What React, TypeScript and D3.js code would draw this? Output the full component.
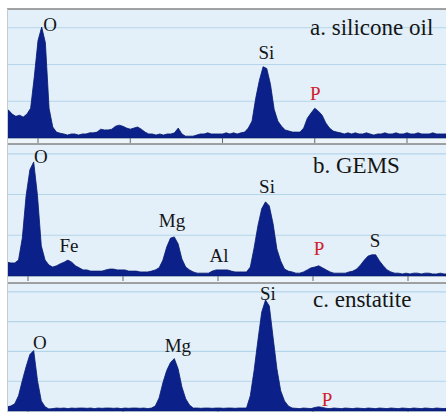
import React from 'react';
import * as d3 from 'd3';

// EDS spectra, counts per 0.02 keV channel
const startA = 0.34;
const countsA = [
  76, 65, 59, 62, 57, 65, 81, 167, 265, 302, 259, 81, 30, 16, 13, 11, 8, 11, 11, 8,
  11, 11, 14, 14, 16, 24, 22, 22, 24, 32, 35, 32, 27, 24, 27, 30, 24, 16, 11, 11,
  8, 11, 8, 11, 11, 14, 27, 11, 5, 5, 5, 8, 11, 11, 14, 11, 11, 11, 11, 14,
  11, 14, 11, 14, 16, 27, 46, 108, 157, 194, 189, 146, 78, 46, 32, 22, 19, 16, 16, 16,
  27, 54, 68, 81, 73, 62, 41, 27, 19, 16, 14, 11, 14, 11, 14, 11, 11, 14, 11, 8,
  11, 11, 14, 11, 11, 14, 11, 11, 14, 11, 11, 14, 11, 11, 11, 14, 11, 11, 11,
];

const startB = 0.39;
const countsB = [
  34, 32, 32, 39, 93, 197, 261, 280, 197, 74, 39, 27, 22, 25, 30, 34, 39, 34, 25, 20,
  15, 15, 12, 12, 12, 12, 15, 17, 17, 15, 15, 15, 12, 12, 12, 10, 10, 10, 12, 15,
  20, 39, 71, 93, 96, 79, 42, 22, 15, 10, 7, 7, 7, 7, 12, 15, 15, 15, 15, 12,
  10, 10, 10, 10, 22, 69, 123, 165, 182, 172, 128, 66, 37, 17, 12, 10, 7, 7, 10, 15,
  20, 22, 25, 20, 15, 10, 7, 7, 7, 7, 10, 12, 17, 27, 39, 49, 52, 52, 37, 25,
  15, 10, 7, 7, 5, 7, 5, 7, 7, 5, 7, 7, 5, 5, 7, 5, 5,
];

const startC = 0.39;
const countsC = [
  14, 17, 24, 51, 102, 149, 190, 203, 102, 34, 14, 7, 8, 10, 9, 10, 8, 10, 9, 10,
  10, 9, 10, 8, 10, 9, 10, 10, 9, 10, 8, 10, 9, 10, 10, 9, 10, 8, 10, 17,
  44, 95, 136, 163, 176, 142, 81, 41, 20, 10, 10, 9, 10, 10, 9, 10, 10, 9, 10, 10,
  9, 10, 10, 10, 51, 136, 237, 332, 373, 353, 247, 142, 68, 34, 17, 10, 9, 8, 10, 9,
  8, 12, 14, 12, 9, 8, 10, 9, 8, 10, 9, 8, 10, 9, 8, 10, 9, 8, 10, 9,
  8, 10, 9, 8, 10, 9, 8, 10, 9, 8, 10, 9, 8, 10, 9, 8, 10,
];

const channelWidth = 0.02;
const tickEnergies = [0.5, 1, 1.5, 2, 2.5];
const gridCounts = [100, 200, 300, 400];

const titles = ['a. silicone oil', 'b. GEMS', 'c. enstatite'];

// peak labels: [element, energy keV, counts at text baseline]
const labelsA: [string, number, number][] = [['O', 0.565, 292], ['Si', 1.738, 216], ['P', 2.003, 103]];
const labelsB: [string, number, number][] = [
  ['O', 0.568, 278], ['Fe', 0.716, 59], ['Mg', 1.258, 121], ['Al', 1.505, 34],
  ['Si', 1.758, 204], ['P', 2.032, 52], ['S', 2.326, 71],
];
const labelsC: [string, number, number][] = [['O', 0.563, 207], ['Mg', 1.289, 197], ['Si', 1.763, 373], ['P', 2.074, 17]];

const W = 446;
const H = 412;
const left = 7;

const panels = [
  { title: titles[0], start: startA, counts: countsA, labels: labelsA, top: 9, base: 138, yMax: 351, x0: 38, x1: 407, titleX: 310, titleY: 35 },
  { title: titles[1], start: startB, counts: countsB, labels: labelsB, top: 144, base: 276, yMax: 324, x0: 28, x1: 408, titleX: 313, titleY: 173 },
  { title: titles[2], start: startC, counts: countsC, labels: labelsC, top: 283, base: 411, yMax: 430, x0: 28, x1: 408, titleX: 313, titleY: 307 },
];

const serif = '"Liberation Serif", "Times New Roman", serif';

function Panel({ p, next }: { p: typeof panels[0]; next: number }) {
  const x = d3.scaleLinear().domain([0.5, 2.5]).range([p.x0, p.x1]);
  const y = d3.scaleLinear().domain([0, p.yMax]).range([p.base, p.top]);
  const pts = p.counts.map((c, i) => [p.start + i * channelWidth, c] as [number, number]);
  // carry the first and last channel out to the panel edges
  pts.unshift([x.invert(left), p.counts[0]]);
  pts.push([x.invert(W), p.counts[p.counts.length - 1]]);
  const area = d3.area<[number, number]>()
    .x(d => x(d[0]))
    .y0(p.base)
    .y1(d => y(d[1]));
  const clipId = 'clip' + p.top;
  return (
    <g>
      <defs>
        <clipPath id={clipId}>
          <rect x={left} y={p.top} width={W - left} height={p.base - p.top} />
        </clipPath>
      </defs>
      <rect x={left} y={p.top} width={W - left} height={next - p.top} fill="#e3f0fa" />
      <rect x={left} y={p.base} width={W - left} height={next - p.base} fill="#edf5fb" />
      {gridCounts.filter(g => g < p.yMax).map(g => (
        <line key={g} x1={left} x2={W} y1={y(g)} y2={y(g)} stroke="#b4d5ea" strokeWidth={1.2} />
      ))}
      <path d={area(pts) || ''} fill="#0b2189" stroke="#071a70" strokeWidth={0.8} clipPath={`url(#${clipId})`} />
      <line x1={left} x2={W} y1={p.base + 0.5} y2={p.base + 0.5} stroke="#9fb3c4" />
      {tickEnergies.map(t => (
        <line key={t} x1={x(t)} x2={x(t)} y1={p.base} y2={p.base + 5} stroke="#666" strokeWidth={1} />
      ))}
      <line x1={left} x2={W} y1={p.top} y2={p.top} stroke="#858585" strokeWidth={1.6} />
      {p.labels.map(([t, e, c]) => (
        <text key={t} x={x(e)} y={y(c)} textAnchor="middle" fontFamily={serif} fontSize={19}
          fill={t === 'P' ? '#d0202a' : '#151515'}>{t}</text>
      ))}
      <text x={p.titleX} y={p.titleY} fontFamily={serif} fontSize={23} fill="#151515">{p.title}</text>
    </g>
  );
}

export default function App() {
  const bounds = [144, 283, H];
  return (
    <svg width={W} height={H} style={{ position: 'absolute', left: 0, top: 0 }}>
      <rect width={W} height={H} fill="#ffffff" />
      {panels.map((p, i) => <Panel key={i} p={p} next={bounds[i]} />)}
      <line x1={left + 0.5} x2={left + 0.5} y1={9} y2={H} stroke="#c4ccd2" />
    </svg>
  );
}
